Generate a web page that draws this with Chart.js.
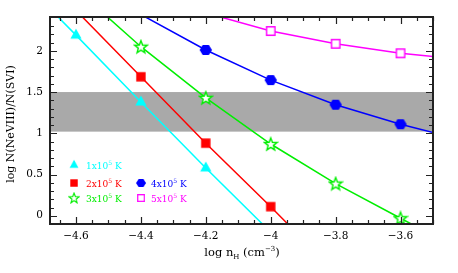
<!DOCTYPE html>
<html>
<head>
<meta charset="utf-8">
<script src="https://cdn.jsdelivr.net/npm/chart.js@4.4.1/dist/chart.umd.min.js"></script>
<style>
  html, body { margin: 0; padding: 0; background: #fff; }
  #wrap { width: 458px; height: 273px; }
</style>
</head>
<body>
<div id="wrap"><canvas id="chart" width="458" height="273"></canvas></div>
<script>
'use strict';

/* ─── Data ──────────────────────────────────────────────────── */
// log nH grid (cm^-3); the end values only carry the lines off the frame
const nH = [-4.8, -4.6, -4.4, -4.2, -4.0, -3.8, -3.6, -3.4];

// log N(NeVIII)/N(SVI) for each temperature
const ratioT1 = [2.99, 2.19, 1.38, 0.58, -0.20, null, null, null];
const ratioT2 = [null, 2.49, 1.685, 0.88, 0.11, -0.69, null, null];
const ratioT3 = [null, 2.75, 2.05, 1.43, 0.87, 0.39, -0.03, -0.45];
const ratioT4 = [null, null, 2.44, 2.01, 1.645, 1.346, 1.11, 0.91];
const ratioT5 = [null, null, null, 2.46, 2.24, 2.085, 1.97, 1.89];

// densities that carry a symbol
const symT1 = [-4.6, -4.4, -4.2];
const symT2 = [-4.4, -4.2, -4.0];
const symT3 = [-4.4, -4.2, -4.0, -3.8, -3.6];
const symT4 = [-4.2, -4.0, -3.8, -3.6];
const symT5 = [-4.0, -3.8, -3.6];

// legend: mantissa of temperature, exponent
const tempMantissa = ['1', '2', '3', '4', '5'];
const tempExponent = '5';

// observed range (grey band)
const obsLow  = 1.02;
const obsHigh = 1.5;

// axes
const xTicks      = [-4.6, -4.4, -4.2, -4.0, -3.8, -3.6];
const xTickLabels = ['\u22124.6', '\u22124.4', '\u22124.2', '\u22124', '\u22123.8', '\u22123.6'];
const yTicks      = [0, 0.5, 1, 1.5, 2];
const yTickLabels = ['0', '0.5', '1', '1.5', '2'];

/* ─── Markers ───────────────────────────────────────────────── */
function makeMarker(kind, color) {
  const n = 16, c = n / 2;
  const cv = document.createElement('canvas');
  cv.width = n; cv.height = n;
  const g = cv.getContext('2d');
  g.fillStyle = color; g.strokeStyle = color; g.lineWidth = 1.4;
  g.beginPath();
  if (kind === 'tri') {
    g.moveTo(c, c - 6.5); g.lineTo(c - 5.6, c + 3.6); g.lineTo(c + 5.6, c + 3.6);
    g.closePath(); g.fill();
  } else if (kind === 'sq') {
    g.rect(c - 4.7, c - 4.7, 9.4, 9.4); g.fill();
  } else if (kind === 'osq') {
    g.rect(c - 4.2, c - 4.2, 8.4, 8.4);
    g.fillStyle = '#fff'; g.fill(); g.stroke();
  } else if (kind === 'hex') {
    for (let k = 0; k < 6; k++) {
      const a = k * Math.PI / 3;
      g.lineTo(c + 6.2 * Math.cos(a), c + 5.8 * Math.sin(a));
    }
    g.closePath(); g.fill();
  } else if (kind === 'star') {
    for (let k = 0; k < 10; k++) {
      const r = k % 2 ? 2.8 : 6.6;
      const a = -Math.PI / 2 + k * Math.PI / 5;
      g.lineTo(c + r * Math.cos(a), c + 0.5 + r * Math.sin(a));
    }
    g.closePath(); g.fillStyle = '#fff'; g.fill(); g.stroke();
  }
  return cv;
}

const series = [
  { vals: ratioT1, sym: symT1, color: '#00ffff', marker: makeMarker('tri',  '#00ffff') },
  { vals: ratioT2, sym: symT2, color: '#ff0000', marker: makeMarker('sq',   '#ff0000') },
  { vals: ratioT3, sym: symT3, color: '#00ee00', marker: makeMarker('star', '#00ee00') },
  { vals: ratioT4, sym: symT4, color: '#0000ff', marker: makeMarker('hex',  '#0000ff') },
  { vals: ratioT5, sym: symT5, color: '#ff00ff', marker: makeMarker('osq',  '#ff00ff') },
];

const FONT = '"DejaVu Serif", serif';

/* ─── Text helper (sub/superscripts) ────────────────────────── */
function drawRich(ctx, parts, x, y, align) {
  let w = 0;
  parts.forEach(p => { ctx.font = `${p.size}px ${FONT}`; p.w = ctx.measureText(p.t).width; w += p.w; });
  let cx = align === 'center' ? x - w / 2 : x;
  parts.forEach(p => {
    ctx.font = `${p.size}px ${FONT}`;
    ctx.fillText(p.t, cx, y + (p.dy || 0));
    cx += p.w;
  });
}

/* ─── Decorations plugin ────────────────────────────────────── */
const decor = {
  id: 'decor',
  beforeDatasetsDraw(chart) {
    const { ctx, chartArea: a, scales: { y } } = chart;
    const top = y.getPixelForValue(obsHigh), bot = y.getPixelForValue(obsLow);
    ctx.save();
    ctx.fillStyle = '#a9a9a9';
    ctx.fillRect(a.left, top, a.right - a.left, bot - top);
    ctx.restore();
  },
  afterDatasetsDraw(chart) {
    const { ctx, chartArea: a, scales: { x, y } } = chart;
    ctx.save();
    ctx.strokeStyle = '#222';
    ctx.lineWidth = 1.2;
    ctx.beginPath();
    // x ticks, bottom and top
    for (let v = -4.65; v <= -3.5; v += 0.05) {
      const vv = Math.round(v * 100) / 100;
      const px = Math.round(x.getPixelForValue(vv)) + 0.5;
      const major = xTicks.some(t => Math.abs(t - vv) < 1e-6);
      const len = major ? 7 : 4;
      ctx.moveTo(px, a.bottom); ctx.lineTo(px, a.bottom - len);
      ctx.moveTo(px, a.top);    ctx.lineTo(px, a.top + len);
    }
    // y ticks, left and right
    for (let v = 0; v <= 2.4; v += 0.1) {
      const vv = Math.round(v * 10) / 10;
      const py = Math.round(y.getPixelForValue(vv)) + 0.5;
      const major = yTicks.some(t => Math.abs(t - vv) < 1e-6);
      const len = major ? 7 : 4;
      ctx.moveTo(a.left, py);  ctx.lineTo(a.left + len, py);
      ctx.moveTo(a.right, py); ctx.lineTo(a.right - len, py);
    }
    ctx.stroke();
    ctx.lineWidth = 2;
    ctx.strokeRect(a.left, a.top, a.right - a.left, a.bottom - a.top);
    ctx.restore();
  },
  afterDraw(chart) {
    const { ctx } = chart;
    ctx.save();
    ctx.textBaseline = 'alphabetic';
    ctx.fillStyle = '#000';

    // x title
    drawRich(ctx, [
      { t: 'log n', size: 11.5 },
      { t: 'H', size: 7, dy: 3 },
      { t: ' (cm', size: 11.5 },
      { t: '\u22123', size: 7, dy: -5 },
      { t: ')', size: 11.5 },
    ], 242, 256, 'center');

    // y title
    ctx.save();
    ctx.translate(14, 124);
    ctx.rotate(-Math.PI / 2);
    ctx.textAlign = 'center';
    ctx.font = `11px ${FONT}`;
    ctx.fillText('log N(NeVIII)/N(SVI)', 0, 0);
    ctx.restore();

    // legend
    const slots = [
      { mx: 74,  tx: 86,  y: 165 },
      { mx: 74,  tx: 86,  y: 183 },
      { mx: 74,  tx: 86,  y: 198 },
      { mx: 141, tx: 151, y: 183 },
      { mx: 141, tx: 151, y: 198 },
    ];
    series.forEach((s, i) => {
      const sl = slots[i];
      const m = s.marker, k = 0.8;
      ctx.drawImage(m, sl.mx - m.width * k / 2, sl.y - m.height * k / 2, m.width * k, m.height * k);
      ctx.fillStyle = s.color;
      drawRich(ctx, [
        { t: tempMantissa[i] + 'x10', size: 9 },
        { t: tempExponent, size: 6, dy: -3.5 },
        { t: ' K', size: 9 },
      ], sl.tx, sl.y + 3.5, 'left');
    });
    ctx.restore();
  }
};

/* ─── Chart ─────────────────────────────────────────────────── */
const datasets = series.map(s => ({
  data: nH.map((x, i) => ({ x, y: s.vals[i] })).filter(p => p.y !== null),
  borderColor: s.color,
  backgroundColor: s.color,
  borderWidth: 1.5,
  showLine: true,
  tension: 0,
  clip: 0,
  pointStyle: s.marker,
  pointRadius: ctx => (ctx.raw && s.sym.includes(ctx.raw.x) ? 6 : 0),
}));

new Chart(document.getElementById('chart'), {
  type: 'scatter',
  data: { datasets },
  plugins: [decor],
  options: {
    responsive: false,
    devicePixelRatio: 1,
    animation: false,
    events: [],
    layout: { padding: { top: 17, right: 25, left: 0, bottom: 0 } },
    plugins: { legend: { display: false }, tooltip: { enabled: false } },
    scales: {
      x: {
        type: 'linear', min: -4.68, max: -3.5,
        afterBuildTicks: s => { s.ticks = xTicks.map(v => ({ value: v })); },
        afterFit: s => { s.height = 49; },
        grid: { display: false, drawTicks: false },
        border: { display: false },
        ticks: {
          autoSkip: false, maxRotation: 0, padding: 6, color: '#000',
          font: { family: FONT, size: 10.5 },
          callback: (v, i) => xTickLabels[i],
        },
      },
      y: {
        type: 'linear', min: -0.1, max: 2.41,
        afterBuildTicks: s => { s.ticks = yTicks.map(v => ({ value: v })); },
        afterFit: s => { s.width = 50; },
        grid: { display: false, drawTicks: false },
        border: { display: false },
        ticks: {
          autoSkip: false, padding: 7, color: '#000',
          font: { family: FONT, size: 10.5 },
          callback: (v, i) => yTickLabels[i],
        },
      },
    },
  },
});
</script>
</body>
</html>
